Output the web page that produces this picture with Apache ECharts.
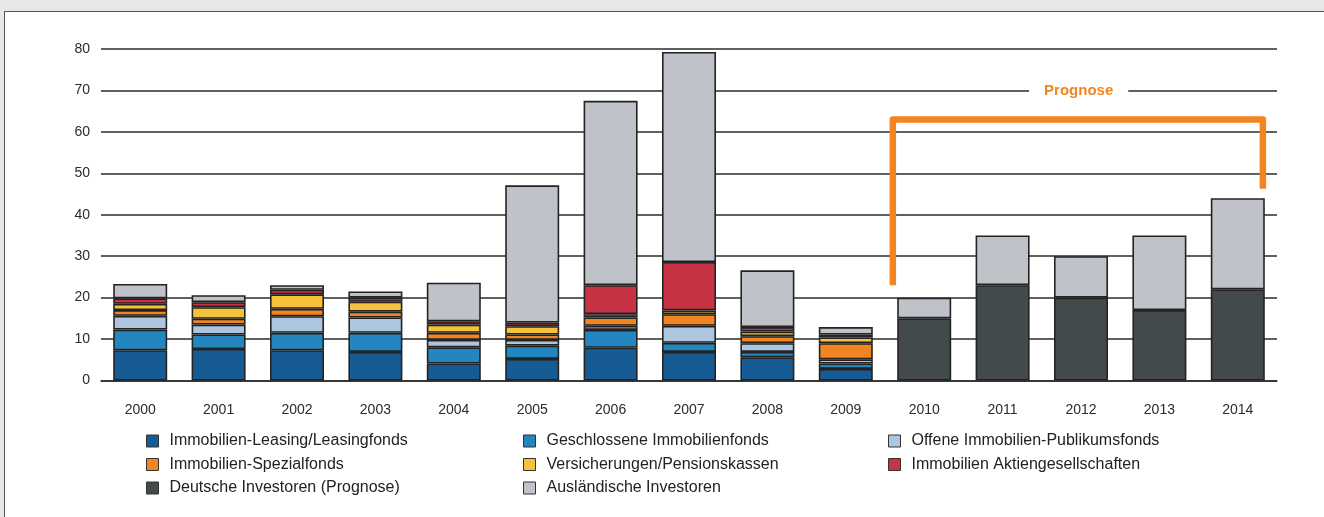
<!DOCTYPE html>
<html>
<head>
<meta charset="utf-8">
<script src="https://cdn.jsdelivr.net/npm/echarts@6/dist/echarts.min.js"></script>
<style>
    html, body { margin: 0; padding: 0; background: #e6e7e8; overflow: hidden; }
    #panel { position: absolute; left: 4px; top: 11px; width: 1340px; height: 530px; background: #fff; border: 1px solid #555; }
    #chart { position: absolute; left: 0; top: 0; width: 1324px; height: 517px; }
</style>
</head>
<body>
<div id="panel"></div>
<div id="chart"></div>
<script>
document.addEventListener('DOMContentLoaded', function() {

    const years = ['2000', '2001', '2002', '2003', '2004', '2005', '2006', '2007',
                   '2008', '2009', '2010', '2011', '2012', '2013', '2014'];

    // Werte in Mrd. Euro
    const leasing        = [7.3, 7.6, 7.3, 6.9, 4.1, 5.2, 7.9, 6.9, 5.6, 2.8, null, null, null, null, null];
    const geschlossene   = [5.0, 3.5, 4.2, 4.6, 3.9, 3.2, 4.3, 2.2, 1.3, 1.3, null, null, null, null, null];
    const offene         = [3.3, 2.4, 4.0, 3.7, 1.8, 1.4, 1.0, 4.1, 2.1, 1.0, null, null, null, null, null];
    const spezial        = [1.4, 1.4, 1.8, 1.4, 1.7, 1.3, 2.0, 2.8, 1.7, 3.9, null, null, null, null, null];
    const versicherungen = [1.5, 2.8, 3.5, 2.4, 2.0, 2.0, 0.8, 0.9, 1.1, 1.4, null, null, null, null, null];
    const aktien         = [1.3, 1.2, 1.1, 1.0, 0.8, 0.9, 7.0, 11.7, 1.1, 0.7, null, null, null, null, null];
    const deutsche       = [null, null, null, null, null, null, null, null, null, null, 15, 23, 20, 17, 22];
    const auslaendische  = [3.5, 1.7, 1.1, 1.5, 9.3, 33.1, 44.5, 50.7, 13.7, 1.8, 5, 12, 10, 18, 22];

    // Klammer "Prognose" (x als Kategorie-Index, y in Mrd.)
    const prognoseBracket = [[9.6, 23], [9.6, 63], [14.32, 63], [14.32, 46.3]];
    const prognoseLabel = [[11.97, 70]];

    const names = [
        'Immobilien-Leasing/Leasingfonds', 'Geschlossene Immobilienfonds', 'Offene Immobilien-Publikumsfonds',
        'Immobilien-Spezialfonds', 'Versicherungen/Pensionskassen', 'Immobilien Aktiengesellschaften',
        'Deutsche Investoren (Prognose)', 'Ausländische Investoren'
    ];
    const values = [leasing, geschlossene, offene, spezial, versicherungen, aktien, deutsche, auslaendische];
    const colors = ['#175b94', '#2386c0', '#adc5de', '#f28522', '#f5c33b', '#c83344', '#434a4c', '#c0c2c9'];

    const orange = '#f28522';
    const font = 'Liberation Sans, Arial, sans-serif';

    const myChart = echarts.init(document.getElementById('chart'));

    const barSeries = names.map((name, i) => ({
        name: name,
        type: 'bar',
        stack: 'total',
        barWidth: 54,
        data: values[i],
        itemStyle: {
            color: colors[i],
            borderColor: '#232323',
            borderWidth: 1.6
        }
    }));

    const legendBase = {
        orient: 'vertical',
        top: 433,
        padding: 0,
        itemWidth: 12,
        itemHeight: 12,
        itemGap: 7.5,
        icon: 'rect',
        itemStyle: { borderColor: '#333', borderWidth: 1 },
        textStyle: { fontFamily: font, fontSize: 16, color: '#222', lineHeight: 16, padding: [0, 0, 0, 6] },
        selectedMode: false
    };

    const option = {
        animation: false,
        backgroundColor: 'transparent',
        color: colors,
        grid: { left: 101, right: 47, top: 49, bottom: 136.5 },
        xAxis: [
            {
                type: 'category',
                data: years,
                axisLine: { lineStyle: { color: '#2b2b2b', width: 1.5 } },
                axisTick: { show: false },
                axisLabel: { fontFamily: font, fontSize: 14, color: '#2b2b2b', margin: 23 }
            },
            {
                type: 'value',
                min: -0.5,
                max: 14.5,
                show: false
            }
        ],
        yAxis: {
            type: 'value',
            min: 0,
            max: 80,
            interval: 10,
            axisLine: { show: false },
            axisTick: { show: false },
            axisLabel: { fontFamily: font, fontSize: 14, color: '#2b2b2b', margin: 11 },
            splitLine: { lineStyle: { color: '#2b2b2b', width: 1.5 } }
        },
        legend: [
            Object.assign({}, legendBase, { left: 146, data: [names[0], names[3], names[6]] }),
            Object.assign({}, legendBase, { left: 523, data: [names[1], names[4], names[7]] }),
            Object.assign({}, legendBase, { left: 888, data: [names[2], names[5]] })
        ],
        series: barSeries.concat([
            {
                name: 'prognose-klammer',
                type: 'line',
                xAxisIndex: 1,
                data: prognoseBracket,
                symbol: 'none',
                z: 5,
                lineStyle: { color: orange, width: 6.5, join: 'round', cap: 'butt' }
            },
            {
                name: 'prognose-label',
                type: 'scatter',
                xAxisIndex: 1,
                data: prognoseLabel,
                symbolSize: 0,
                z: 5,
                itemStyle: { opacity: 1 },
                label: {
                    show: true,
                    position: 'inside',
                    formatter: 'Prognose',
                    fontFamily: font,
                    fontWeight: 'bold',
                    fontSize: 15,
                    color: orange,
                    opacity: 1,
                    backgroundColor: '#fff',
                    padding: [3, 15]
                }
            }
        ])
    };

    myChart.setOption(option);

    window.addEventListener('resize', function() {
        myChart.resize();
    });
});
</script>
</body>
</html>
